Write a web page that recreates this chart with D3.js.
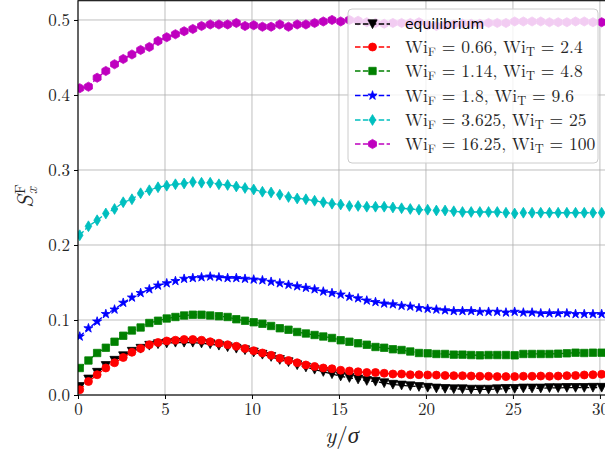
<!DOCTYPE html>
<html><head><meta charset="utf-8">
<script src="https://cdn.jsdelivr.net/npm/d3@7/dist/d3.min.js"></script>
<style>body{margin:0;background:#fff}svg{display:block}</style>
</head><body>
<svg id="chart" width="605" height="453"></svg>
<script>
// ---------- data ----------
const xValues = [0.1,0.6,1.1,1.6,2.1,2.6,3.1,3.6,4.1,4.6,5.1,5.6,6.1,6.6,7.1,7.6,8.1,8.6,9.1,9.6,
  10.1,10.6,11.1,11.6,12.1,12.6,13.1,13.6,14.1,14.6,15.1,15.6,16.1,16.6,17.1,17.6,18.1,18.6,19.1,19.6,
  20.1,20.6,21.1,21.6,22.1,22.6,23.1,23.6,24.1,24.6,25.1,25.6,26.1,26.6,27.1,27.6,28.1,28.6,29.1,29.6,30.1];

const equilibrium = [0.011,0.021,0.030,0.039,0.046,0.052,0.058,0.062,0.066,0.068,
  0.069,0.070,0.070,0.070,0.069,0.068,0.066,0.064,0.062,0.060,
  0.057,0.054,0.051,0.047,0.044,0.040,0.037,0.034,0.031,0.028,
  0.025,0.023,0.021,0.019,0.018,0.016,0.014,0.013,0.012,0.011,
  0.010,0.009,0.0085,0.008,0.008,0.0075,0.0075,0.0075,0.008,0.0085,
  0.0085,0.009,0.009,0.009,0.0095,0.0095,0.0098,0.0098,0.0098,0.010,0.010];

const wi2_4 = [0.007,0.018,0.027,0.036,0.043,0.050,0.057,0.062,0.067,0.070,
  0.072,0.073,0.074,0.074,0.073,0.071,0.069,0.067,0.065,0.062,
  0.059,0.056,0.053,0.049,0.046,0.043,0.040,0.038,0.036,0.035,
  0.033,0.032,0.031,0.030,0.030,0.029,0.028,0.028,0.027,0.027,
  0.0267,0.0265,0.026,0.0258,0.0257,0.0253,0.025,0.025,0.0245,0.0245,
  0.0245,0.025,0.025,0.0253,0.025,0.0253,0.0258,0.026,0.0267,0.027,0.0276];

const wi4_8 = [0.036,0.046,0.056,0.063,0.071,0.079,0.086,0.090,0.096,0.099,
  0.102,0.104,0.106,0.107,0.107,0.106,0.105,0.104,0.101,0.099,
  0.097,0.095,0.092,0.089,0.087,0.084,0.082,0.080,0.078,0.076,
  0.073,0.071,0.069,0.067,0.064,0.063,0.061,0.060,0.058,0.056,
  0.0556,0.0547,0.0547,0.0538,0.0538,0.0533,0.0529,0.0533,0.0533,0.0533,
  0.0529,0.0547,0.0547,0.0547,0.0547,0.0551,0.0556,0.0564,0.056,0.0564,0.0564];

const wi9_6 = [0.078,0.089,0.098,0.108,0.114,0.123,0.130,0.136,0.141,0.146,
  0.149,0.152,0.155,0.156,0.157,0.158,0.157,0.156,0.156,0.155,
  0.154,0.153,0.151,0.149,0.147,0.145,0.143,0.141,0.138,0.136,
  0.134,0.131,0.129,0.126,0.124,0.122,0.121,0.119,0.118,0.116,
  0.115,0.114,0.113,0.112,0.112,0.112,0.111,0.111,0.111,0.110,
  0.111,0.110,0.110,0.109,0.109,0.109,0.109,0.108,0.108,0.108,0.108];

const wi25 = [0.213,0.225,0.233,0.242,0.248,0.257,0.261,0.269,0.273,0.277,
  0.279,0.281,0.282,0.284,0.283,0.283,0.281,0.280,0.278,0.276,
  0.274,0.271,0.270,0.267,0.264,0.262,0.261,0.259,0.257,0.255,
  0.254,0.252,0.252,0.251,0.251,0.251,0.250,0.249,0.248,0.247,
  0.247,0.246,0.246,0.245,0.244,0.244,0.244,0.244,0.244,0.243,
  0.242,0.243,0.243,0.243,0.243,0.243,0.243,0.243,0.243,0.243,0.243];

const wi100 = [0.409,0.411,0.423,0.432,0.441,0.448,0.454,0.460,0.464,0.472,
  0.477,0.481,0.485,0.488,0.492,0.494,0.494,0.494,0.496,0.492,
  0.493,0.491,0.491,0.494,0.491,0.494,0.494,0.496,0.498,0.500,
  0.498,0.500,0.499,0.497,0.496,0.495,0.496,0.496,0.496,0.497,
  0.493,0.492,0.493,0.494,0.495,0.495,0.495,0.496,0.496,0.496,
  0.498,0.498,0.498,0.498,0.497,0.497,0.497,0.498,0.498,0.497,0.497];

const wiF = [null,"0.66","1.14","1.8","3.625","16.25"];
const wiT = [null,"2.4","4.8","9.6","25","100"];
const xTicks = [0,5,10,15,20,25,30];
const yTicks = [0,0.1,0.2,0.3,0.4,0.5];

const series = [
  {values: equilibrium, color:"#000000", marker:"tri_down"},
  {values: wi2_4, color:"#ff0000", marker:"circle"},
  {values: wi4_8, color:"#008000", marker:"square"},
  {values: wi9_6, color:"#0000ff", marker:"star"},
  {values: wi25, color:"#00bfbf", marker:"thin_diamond"},
  {values: wi100, color:"#bf00bf", marker:"hexagon"}
];

// ---------- layout ----------
const MATH = '"Latin Modern Roman", "Liberation Serif", serif';
const SANS = '"DejaVu Sans", sans-serif';
const L = 78, R = 606, T = 0.7, B = 395;
const svg = d3.select("#chart");
const x = d3.scaleLinear().domain([0, 30.35]).range([L, R]);
const y = d3.scaleLinear().domain([0, 0.5257]).range([B, T]);

function markerPath(type) {
  const p = d3.path();
  if (type === "circle") { p.arc(0,0,4,0,2*Math.PI); }
  else if (type === "square") { p.rect(-3.7,-3.7,7.4,7.4); }
  else if (type === "tri_down") { const r=4.6; p.moveTo(0,r); p.lineTo(-r,-r*0.9); p.lineTo(r,-r*0.9); p.closePath(); }
  else if (type === "thin_diamond") { p.moveTo(0,-5.4); p.lineTo(3.3,0); p.lineTo(0,5.4); p.lineTo(-3.3,0); p.closePath(); }
  else if (type === "hexagon") { const r=4.6; for(let k=0;k<6;k++){const a=-Math.PI/2+k*Math.PI/3; const px=r*Math.cos(a), py=r*Math.sin(a); k?p.lineTo(px,py):p.moveTo(px,py);} p.closePath(); }
  else if (type === "star") { const ro=4.8, ri=ro*0.382; for(let k=0;k<10;k++){const a=-Math.PI/2+k*Math.PI/5; const r=k%2?ri:ro; const px=r*Math.cos(a), py=r*Math.sin(a); k?p.lineTo(px,py):p.moveTo(px,py);} p.closePath(); }
  return p.toString();
}

svg.append("defs").append("clipPath").attr("id","plotclip")
  .append("rect").attr("x",L).attr("y",T).attr("width",R-L).attr("height",B-T);

// grid
const grid = svg.append("g");
grid.selectAll(".gx").data(xTicks).join("line")
  .attr("x1",d=>x(d)).attr("x2",d=>x(d)).attr("y1",T).attr("y2",B)
  .attr("stroke","#b0b0b0").attr("stroke-width",1).attr("opacity",0.8);
grid.selectAll(".gy").data(yTicks).join("line")
  .attr("x1",L).attr("x2",R).attr("y1",d=>y(d)).attr("y2",d=>y(d))
  .attr("stroke","#b0b0b0").attr("stroke-width",1).attr("opacity",0.8);

// data
const plot = svg.append("g").attr("clip-path","url(#plotclip)");
const line = d3.line().x((d,i)=>x(xValues[i])).y(d=>y(d));
series.forEach(s => {
  const g = plot.append("g");
  g.append("path").attr("d", line(s.values)).attr("fill","none")
    .attr("stroke",s.color).attr("stroke-width",1.3).attr("stroke-dasharray","5.5,2.4");
  const mp = markerPath(s.marker);
  g.selectAll("path.m").data(s.values).join("path").attr("class","m")
    .attr("d", mp).attr("transform",(d,i)=>`translate(${x(xValues[i])},${y(d)})`)
    .attr("fill",s.color).attr("stroke",s.color).attr("stroke-width",0.8);
});

// axes
const xAxis = svg.append("g").attr("transform",`translate(0,${B})`)
  .call(d3.axisBottom(x).tickValues(xTicks).tickFormat(d3.format("d")).tickSize(4).tickPadding(4));
const yAxis = svg.append("g").attr("transform",`translate(${L},0)`)
  .call(d3.axisLeft(y).tickValues(yTicks).tickFormat(d3.format(".1f")).tickSize(4).tickPadding(4));
[xAxis,yAxis].forEach(a=>{
  a.attr("font-family",null).attr("font-size",null);
  a.select(".domain").remove();
  a.selectAll(".tick line").attr("stroke","#000").attr("stroke-width",1);
  a.selectAll(".tick text").style("font-family",MATH).style("font-size","17px").attr("fill","#262626");
});
svg.append("rect").attr("x",L).attr("y",T).attr("width",R-L).attr("height",B-T)
  .attr("fill","none").attr("stroke","#000").attr("stroke-width",1.1);

// axis labels
svg.append("text").attr("x",(L+R)/2).attr("y",443).attr("text-anchor","middle")
  .style("font-family",MATH).style("font-size","23px").attr("fill","#262626")
  .call(t=>{
    t.append("tspan").style("font-style","italic").text("y");
    t.append("tspan").text("/");
    t.append("tspan").style("font-style","italic").text("σ");
  });
const yl = svg.append("g").attr("transform","translate(33,198) rotate(-90)").attr("fill","#262626");
yl.append("text").attr("x",-10).attr("y",0).style("font-family",MATH).style("font-size","23px").style("font-style","italic").text("S");
yl.append("text").attr("x",4).attr("y",-8).style("font-family",MATH).style("font-size","15px").text("F");
yl.append("text").attr("x",4).attr("y",4).style("font-family",MATH).style("font-size","15px").style("font-style","italic").text("x");

// legend
const lg = svg.append("g");
lg.append("rect").attr("x",348).attr("y",9).attr("width",250).attr("height",154).attr("rx",4)
  .attr("fill","#fff").attr("fill-opacity",0.8).attr("stroke","#cccccc").attr("stroke-width",1);
const rowY = [24,47,71,95.5,120,144];
series.forEach((s,i)=>{
  const cy = rowY[i];
  lg.append("line").attr("x1",355).attr("x2",390).attr("y1",cy).attr("y2",cy)
    .attr("stroke",s.color).attr("stroke-width",1.3).attr("stroke-dasharray","5.5,2.4");
  lg.append("path").attr("d",markerPath(s.marker)).attr("transform",`translate(372.5,${cy})`)
    .attr("fill",s.color).attr("stroke",s.color).attr("stroke-width",0.8);
  if (i===0) {
    lg.append("text").attr("x",405).attr("y",cy+5)
      .style("font-family",SANS).style("font-size","14px").attr("fill","#000").text("equilibrium");
  } else {
    const t = lg.append("text").attr("x",405).attr("y",cy+6)
      .style("font-family",MATH).style("font-size","17.5px").attr("fill","#262626");
    t.append("tspan").text("Wi");
    t.append("tspan").style("font-size","12.5px").attr("dy",3).text("F");
    t.append("tspan").attr("dy",-3).text(` = ${wiF[i]}, Wi`);
    t.append("tspan").style("font-size","12.5px").attr("dy",3).text("T");
    t.append("tspan").attr("dy",-3).text(` = ${wiT[i]}`);
  }
});
</script>
</body></html>
